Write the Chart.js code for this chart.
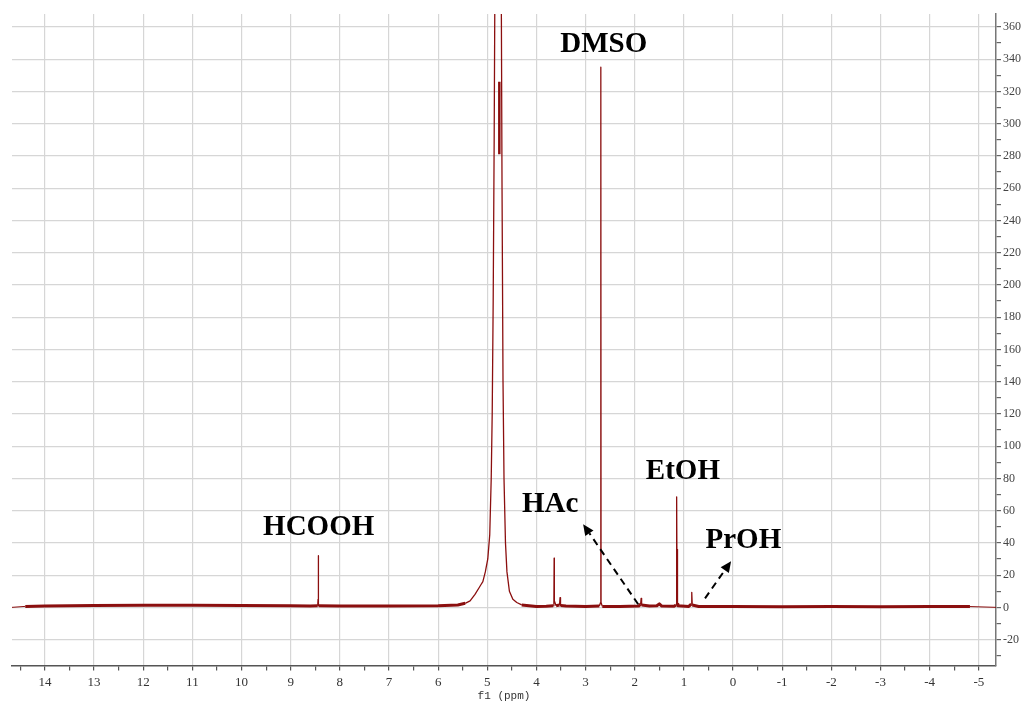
<!DOCTYPE html>
<html>
<head>
<meta charset="utf-8">
<script src="https://cdn.jsdelivr.net/npm/chart.js@4.4.1/dist/chart.umd.min.js"></script>
<style>
  html, body { margin: 0; padding: 0; background: #fff; }
  canvas { display: block; }
</style>
</head>
<body>
<canvas id="nmrChart" width="1026" height="706"></canvas>
<script>
// 1H NMR trace: chemical shift (ppm) and intensity
const shiftPpm = [
  14.67, 14.4, 14.0, 13.0, 12.0, 11.0, 10.0, 9.0, 8.6, 8.45, 8.443, 8.44, 8.437, 8.43, 8.0, 7.0, 6.0,
  5.6, 5.45, 5.35, 5.25, 5.17, 5.13, 5.09, 5.04, 4.99, 4.95, 4.92, 4.9, 4.88, 4.86, 4.84, 4.8, 4.78,
  4.76, 4.72, 4.7, 4.68, 4.66, 4.63, 4.6, 4.55, 4.48, 4.4, 4.3, 4.0, 3.8,
  3.66, 3.645, 3.64, 3.635, 3.6, 3.53, 3.52, 3.51, 3.4, 3.0,
  2.72, 2.695, 2.69, 2.685, 2.66, 2.3, 1.92, 1.88, 1.87, 1.86, 1.7, 1.55, 1.5, 1.45, 1.2,
  1.16, 1.152, 1.148, 1.142, 1.138, 1.132, 1.128, 1.12, 0.9, 0.85, 0.84, 0.83, 0.7,
  0.0, -1.0, -2.0, -3.0, -4.0, -4.6, -4.82, -5.35
];
const intensity = [
  0, 0.6, 0.8, 1.1, 1.3, 1.3, 1.2, 1.0, 0.9, 1.0, 5, 32, 4, 1.0, 0.9, 0.9, 1.0,
  1.5, 2.5, 4, 8, 12, 14, 16, 22, 30, 45, 80, 120, 190, 290, 420, 900, 1500,
  900, 420, 260, 140, 80, 40, 22, 10, 5, 3, 1.5, 0.6, 0.7,
  1.0, 4, 30.5, 4, 1.0, 1.5, 6, 1.2, 0.8, 0.6,
  0.8, 3, 335, 3, 0.6, 0.5, 0.8, 2, 5.6, 1.5, 0.8, 1.0, 2.2, 0.8, 0.7,
  1.5, 36, 4, 68.5, 4, 36, 2, 1.0, 0.6, 2, 9.3, 1.5, 0.5,
  0.5, 0.4, 0.5, 0.4, 0.5, 0.5, 0.5, 0
];
// darker overlapping trace inside the water peak
const waterInnerPpm = [4.755, 4.755];
const waterInnerVal = [281, 326];

const xMajorTicks = [14, 13, 12, 11, 10, 9, 8, 7, 6, 5, 4, 3, 2, 1, 0, -1, -2, -3, -4, -5];
const xMinorTicks = [14.5, 13.5, 12.5, 11.5, 10.5, 9.5, 8.5, 7.5, 6.5, 5.5, 4.5, 3.5, 2.5, 1.5, 0.5, -0.5, -1.5, -2.5, -3.5, -4.5];
const yMajorTicks = [-20, 0, 20, 40, 60, 80, 100, 120, 140, 160, 180, 200, 220, 240, 260, 280, 300, 320, 340, 360];
const yMinorTicks = [-30, -10, 10, 30, 50, 70, 90, 110, 130, 150, 170, 190, 210, 230, 250, 270, 290, 310, 330, 350];

// peak names, anchored in data units (ppm, intensity)
const peakLabels = ['HCOOH', 'HAc', 'DMSO', 'EtOH', 'PrOH'];
const labelPpm = [8.43, 3.72, 2.63, 1.02, -0.21];
const labelVal = [51, 65.3, 350.7, 85.8, 42.9];
// dashed arrows, tail -> head
const arrowFromPpm = [1.93, 0.57];
const arrowFromVal = [1.9, 5.6];
const arrowToPpm = [3.05, 0.04];
const arrowToVal = [51.6, 28.6];

const traceColor = '#8b0f0f';

const peakNotes = {
  id: 'peakNotes',
  afterDatasetsDraw(chart) {
    const { ctx, scales: { x, y } } = chart;
    ctx.save();
    ctx.fillStyle = '#000';
    ctx.font = 'bold 29px "Liberation Serif", "Times New Roman", serif';
    ctx.textAlign = 'center';
    ctx.textBaseline = 'alphabetic';
    peakLabels.forEach((txt, i) => {
      ctx.fillText(txt, x.getPixelForValue(labelPpm[i]), y.getPixelForValue(labelVal[i]) + 10);
    });

    ctx.strokeStyle = '#000';
    ctx.lineWidth = 2;
    arrowFromPpm.forEach((p, i) => {
      const tx = x.getPixelForValue(p), ty = y.getPixelForValue(arrowFromVal[i]);
      const hx = x.getPixelForValue(arrowToPpm[i]), hy = y.getPixelForValue(arrowToVal[i]);
      const a = Math.atan2(hy - ty, hx - tx);
      const headLen = 11;
      ctx.setLineDash([7, 5]);
      ctx.beginPath();
      ctx.moveTo(tx, ty);
      ctx.lineTo(hx - headLen * Math.cos(a), hy - headLen * Math.sin(a));
      ctx.stroke();
      ctx.setLineDash([]);
      ctx.beginPath();
      ctx.moveTo(hx, hy);
      ctx.lineTo(hx - headLen * Math.cos(a) + 5 * Math.sin(a), hy - headLen * Math.sin(a) - 5 * Math.cos(a));
      ctx.lineTo(hx - headLen * Math.cos(a) - 5 * Math.sin(a), hy - headLen * Math.sin(a) + 5 * Math.cos(a));
      ctx.closePath();
      ctx.fill();
    });
    ctx.restore();
  }
};

const ctx = document.getElementById('nmrChart').getContext('2d');
new Chart(ctx, {
  type: 'line',
  data: {
    datasets: [
      {
        data: shiftPpm.map((p, i) => ({ x: p, y: intensity[i] })),
        borderColor: traceColor,
        borderWidth: 1.3,
        borderJoinStyle: 'round',
        pointRadius: 0,
        tension: 0,
        segment: {
          // noisy baseline reads as a thicker band than the sharp peaks
          borderWidth: (c) => {
            const a = c.p0.parsed.y, b = c.p1.parsed.y;
            if (a === 0 || b === 0) return 1;
            return Math.max(a, b) < 3 ? 3 : 1.3;
          }
        }
      },
      {
        data: waterInnerPpm.map((p, i) => ({ x: p, y: waterInnerVal[i] })),
        borderColor: traceColor,
        borderWidth: 2.5,
        pointRadius: 0
      }
    ]
  },
  options: {
    responsive: false,
    animation: false,
    devicePixelRatio: 1,
    layout: { padding: { left: 12, top: 14, right: 3, bottom: 3 } },
    plugins: { legend: { display: false }, tooltip: { enabled: false } },
    scales: {
      x: {
        type: 'linear',
        reverse: true,
        min: -5.35,
        max: 14.67,
        afterBuildTicks: (s) => {
          s.ticks = xMajorTicks.concat(xMinorTicks).sort((a, b) => a - b).map((v) => ({ value: v }));
        },
        grid: {
          color: (c) => (c.tick && xMajorTicks.includes(c.tick.value) ? '#d6d6d6' : 'rgba(0,0,0,0)'),
          lineWidth: 1.2,
          tickColor: '#555',
          tickLength: 5
        },
        border: { color: '#555', width: 1.5 },
        ticks: {
          autoSkip: false,
          maxRotation: 0,
          padding: 4,
          color: '#333',
          font: { family: '"Liberation Serif", serif', size: 13 },
          callback: (v) => (xMajorTicks.includes(v) ? String(v) : '')
        },
        title: {
          display: true,
          text: 'f1 (ppm)',
          color: '#333',
          font: { family: '"Liberation Mono", monospace', size: 11, lineHeight: 1 },
          padding: { top: -3, bottom: 1 }
        }
      },
      y: {
        position: 'right',
        min: -36,
        max: 368,
        afterBuildTicks: (s) => {
          s.ticks = yMajorTicks.concat(yMinorTicks).sort((a, b) => a - b).map((v) => ({ value: v }));
        },
        grid: {
          color: (c) => (c.tick && yMajorTicks.includes(c.tick.value) ? '#d6d6d6' : 'rgba(0,0,0,0)'),
          lineWidth: 1.2,
          tickColor: '#666',
          tickLength: 5
        },
        border: { color: '#777', width: 1.5 },
        ticks: {
          autoSkip: false,
          padding: 2,
          color: '#444',
          font: { family: '"Liberation Serif", serif', size: 12 },
          callback: (v) => (yMajorTicks.includes(v) ? String(v) : '')
        }
      }
    }
  },
  plugins: [peakNotes]
});
</script>
</body>
</html>
